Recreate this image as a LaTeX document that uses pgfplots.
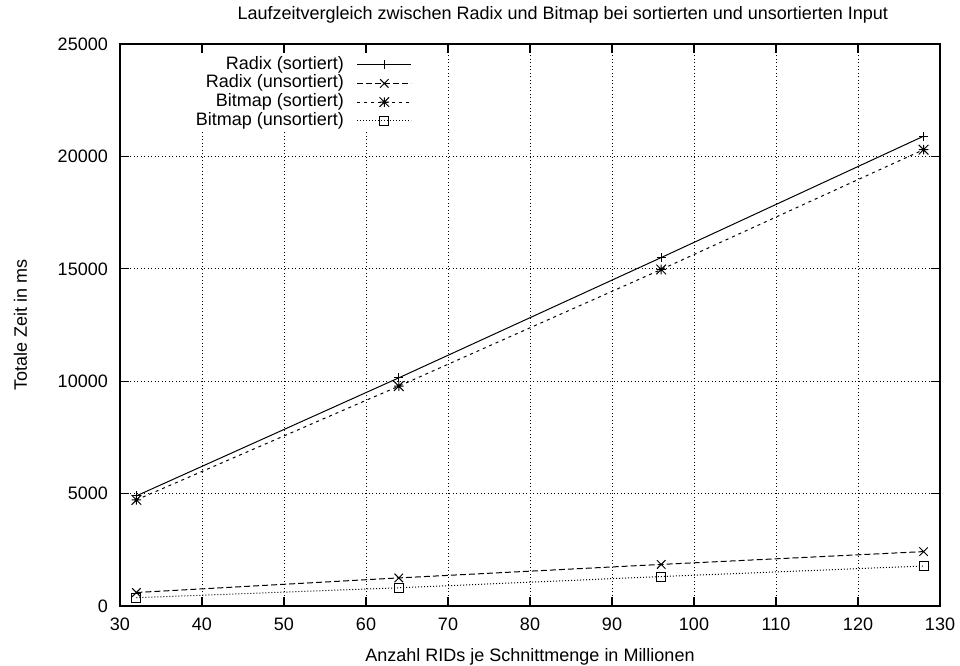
\documentclass[border=0pt]{standalone}
\usepackage{pgfplots}
\pgfplotsset{compat=1.18}
\usepackage{fontspec}
\setmainfont{Liberation Sans}

% gnuplot-style star: plus and cross overlaid
\pgfdeclareplotmark{gpstar}{%
  \pgfpathmoveto{\pgfqpoint{-\pgfplotmarksize}{0pt}}%
  \pgfpathlineto{\pgfqpoint{\pgfplotmarksize}{0pt}}%
  \pgfpathmoveto{\pgfqpoint{0pt}{-\pgfplotmarksize}}%
  \pgfpathlineto{\pgfqpoint{0pt}{\pgfplotmarksize}}%
  \pgfpathmoveto{\pgfqpoint{-\pgfplotmarksize}{-\pgfplotmarksize}}%
  \pgfpathlineto{\pgfqpoint{\pgfplotmarksize}{\pgfplotmarksize}}%
  \pgfpathmoveto{\pgfqpoint{-\pgfplotmarksize}{\pgfplotmarksize}}%
  \pgfpathlineto{\pgfqpoint{\pgfplotmarksize}{-\pgfplotmarksize}}%
  \pgfusepathqstroke}

\begin{document}
\fontsize{18}{21}\selectfont
\begin{tikzpicture}
\begin{axis}[
  scale only axis,
  width=820pt, height=562pt,
  xmin=30, xmax=130, ymin=0, ymax=25000,
  xtick={30,40,...,130},
  ytick={0,5000,...,25000},
  scaled y ticks=false,
  /pgf/number format/1000 sep={},
  /pgf/number format/assume math mode=true,
  tick align=inside,
  major tick length=9pt,
  axis line style={line width=1.4pt},
  every tick/.style={black, line width=1.2pt},
  grid=major,
  major grid style={black, line width=0.8pt, dash pattern=on 1pt off 2.5pt},
  tick label style={font=\fontsize{18}{21}\selectfont},
  yticklabel style={inner sep=0pt, anchor=east, xshift=-12pt},
  xticklabel style={inner sep=0pt, anchor=north, yshift=-12pt},
  label style={font=\fontsize{18}{21}\selectfont},
  xlabel={Anzahl RIDs je Schnittmenge in Millionen},
  xlabel style={at={(axis description cs:0.5,0)}, anchor=base, yshift=-55pt, inner sep=0pt},
  ylabel={Totale Zeit in ms},
  ylabel style={at={(axis description cs:0,0.5)}, anchor=base, rotate=0, yshift=93pt, inner sep=0pt},
  title={Laufzeitvergleich zwischen Radix und Bitmap bei sortierten und unsortierten Input},
  title style={at={(axis description cs:0.54,1)}, anchor=base, yshift=19pt, inner sep=0pt,
    font=\fontsize{18}{21}\selectfont},
  legend style={draw=none, fill=white, at={(0.3598,0.984)}, anchor=north east,
    font=\fontsize{18}{21}\selectfont, inner sep=3pt, row sep=1.7pt, column sep=13pt,
    cells={anchor=east},
    nodes={inner sep=0pt, text height=13pt, text depth=4pt}},
  legend plot pos=right,
  legend image code/.code={%
    \draw[mark repeat=2,mark phase=2,#1] plot coordinates {(0pt,0pt) (27pt,0pt) (54pt,0pt)};},
  every axis plot/.append style={black, line width=1pt, mark options={solid, line width=1pt}},
]
% Radix, sorted input
\addplot[solid, mark=+, mark size=4.5pt] coordinates {
  (32,4900) (64,10150) (96,15500) (128,20900)};
\addlegendentry{Radix (sortiert)}
% Radix, unsorted input
\addplot[dash pattern=on 6pt off 3pt, mark=x, mark size=6pt] coordinates {
  (32,600) (64,1250) (96,1850) (128,2420)};
\addlegendentry{Radix (unsortiert)}
% Bitmap, sorted input
\addplot[dash pattern=on 3pt off 4pt, mark=gpstar, mark size=4.8pt] coordinates {
  (32,4720) (64,9780) (96,14970) (128,20300)};
\addlegendentry{Bitmap (sortiert)}
% Bitmap, unsorted input
\addplot[dash pattern=on 1pt off 2pt, mark=square, mark size=4.5pt] coordinates {
  (32,370) (64,810) (96,1310) (128,1780)};
\addlegendentry{Bitmap (unsortiert)}
\end{axis}
\pgfresetboundingbox
\useasboundingbox (-120pt,-59pt) rectangle (840pt,606pt);
\end{tikzpicture}
\end{document}
